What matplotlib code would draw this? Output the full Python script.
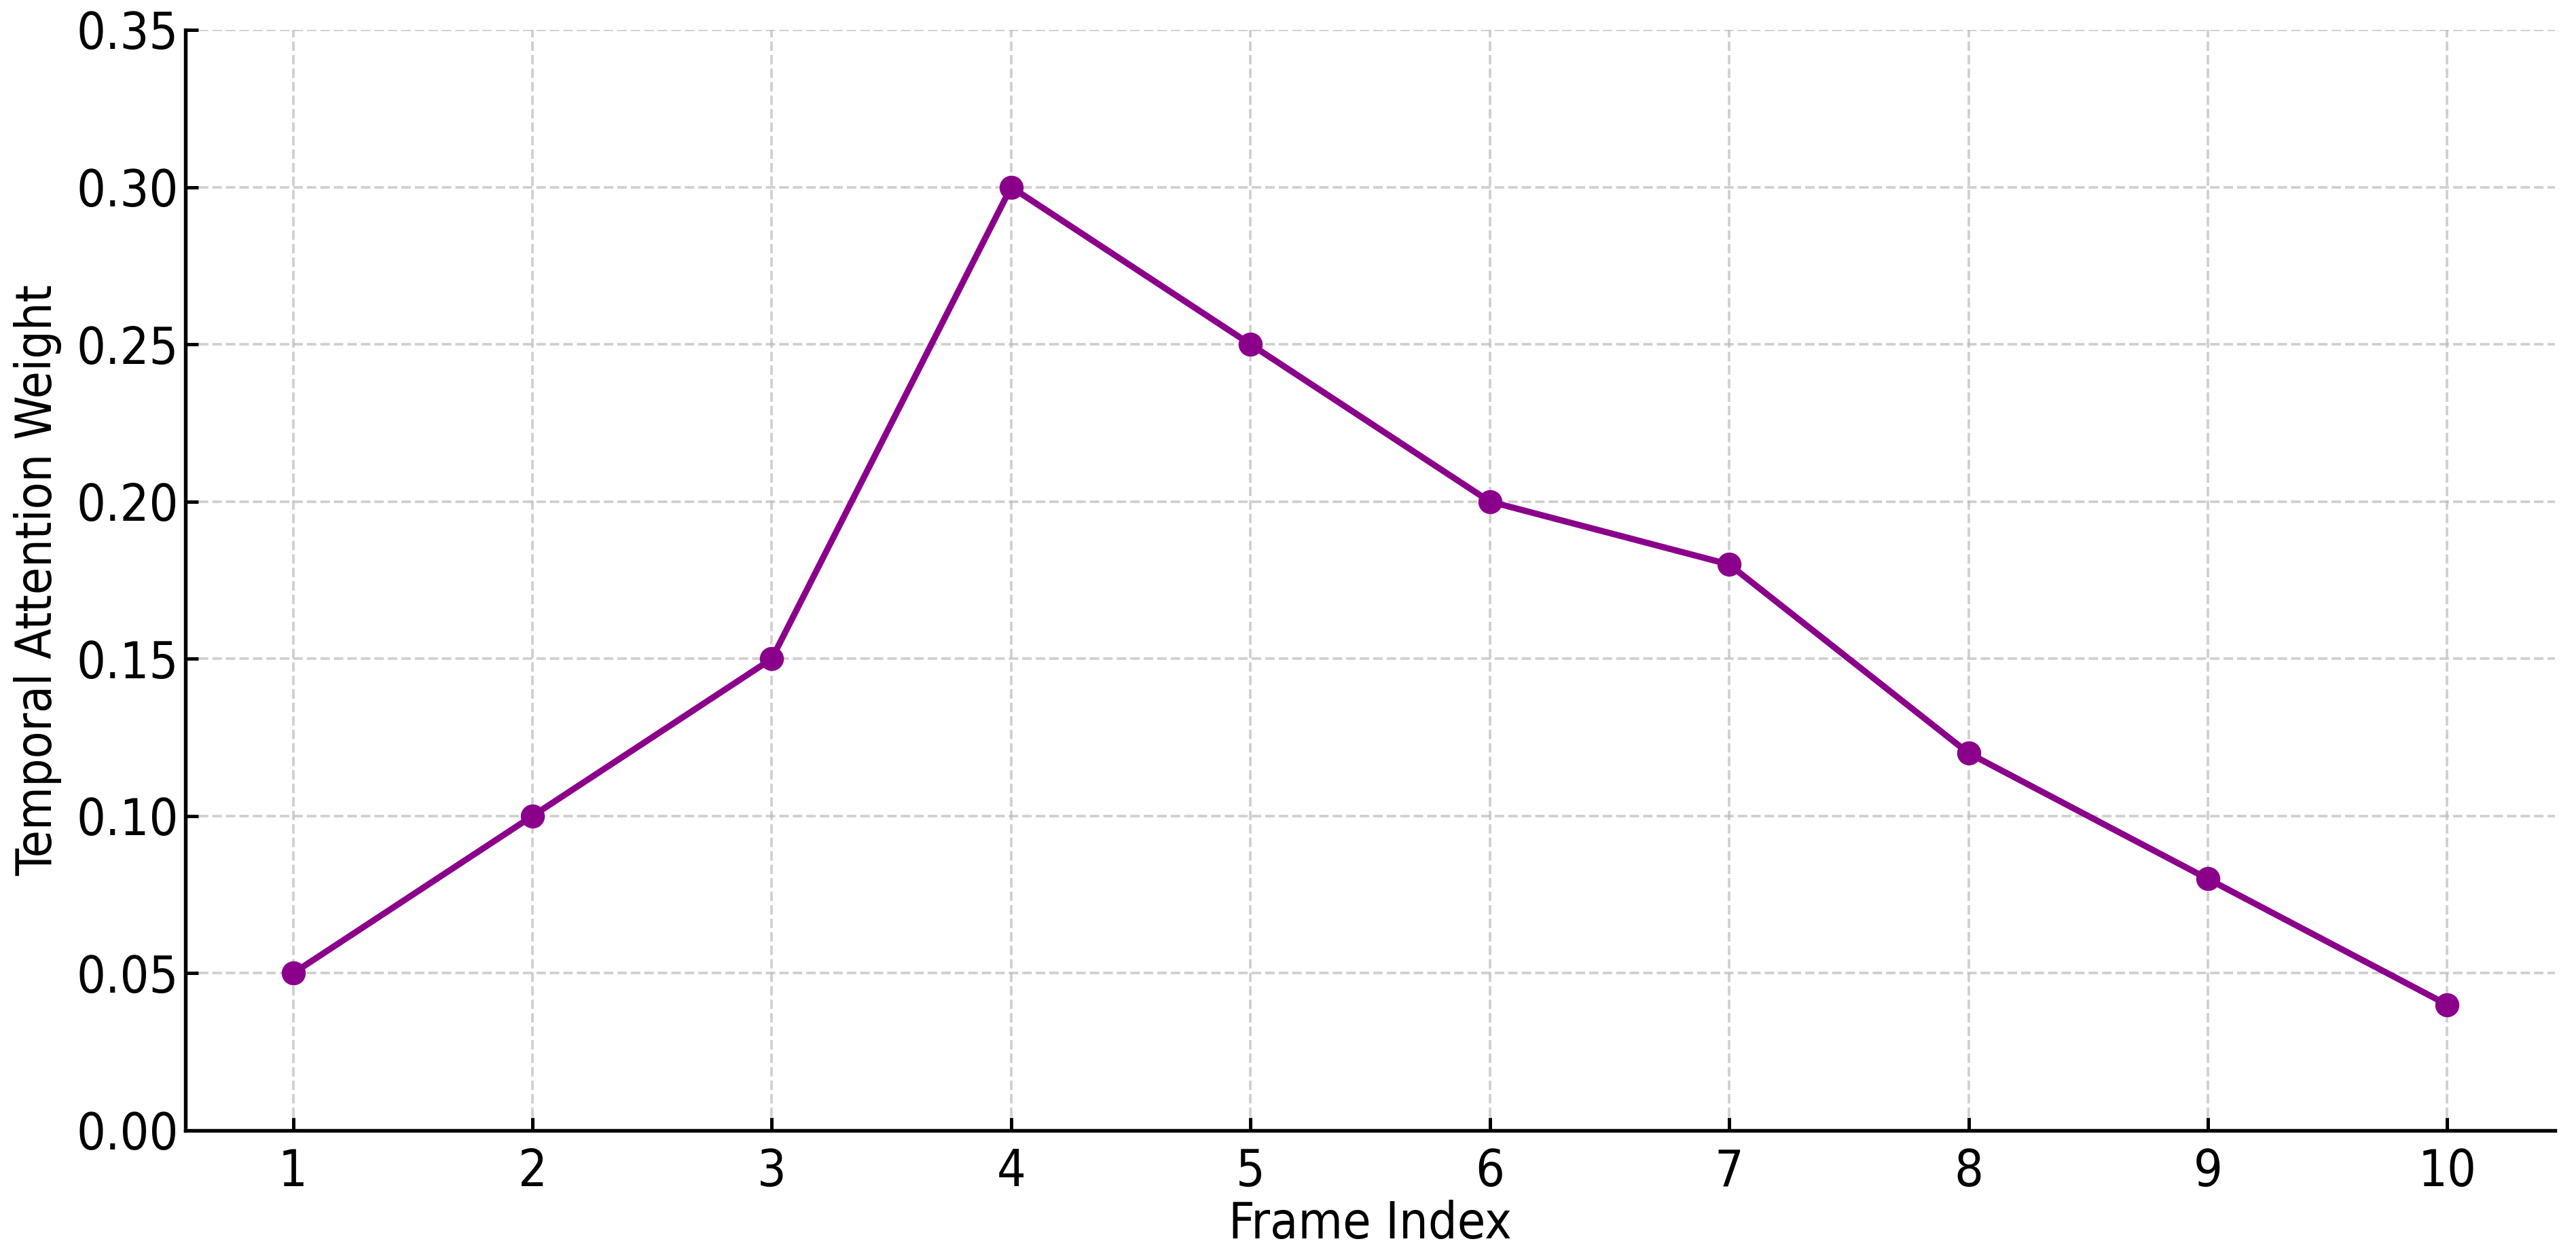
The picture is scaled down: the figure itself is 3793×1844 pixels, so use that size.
import matplotlib
matplotlib.use("Agg")
import matplotlib.pyplot as plt

# frame indices and their attention weights
frames = [1, 2, 3, 4, 5, 6, 7, 8, 9, 10]
weights = [0.05, 0.10, 0.15, 0.30, 0.25, 0.20, 0.18, 0.12, 0.08, 0.04]
yticks = [0.00, 0.05, 0.10, 0.15, 0.20, 0.25, 0.30, 0.35]

plt.rcParams["font.family"] = "DejaVu Sans"
plt.rcParams["font.stretch"] = "condensed"

fig = plt.figure(figsize=(3793 / 300, 1844 / 300), dpi=300)
ax = fig.add_axes([273 / 3793, 1 - 1665 / 1844, (3762 - 273) / 3793, (1665 - 44) / 1844])

ax.plot(frames, weights, color="#8B008B", linewidth=2.2, marker="o", markersize=7.5)

ax.set_xticks(frames)
ax.set_yticks(yticks)
ax.set_ylim(0, 0.35)
ax.set_yticklabels([f"{v:.2f}" for v in yticks])

ax.set_xlabel("Frame Index", fontsize=18, labelpad=1)
ax.set_ylabel("Temporal Attention Weight", fontsize=17.5, labelpad=5)
ax.tick_params(axis="x", direction="in", labelsize=18, length=4.5, width=1.2, pad=6)
ax.tick_params(axis="y", direction="in", labelsize=18, length=4.5, width=1.2, pad=2.5)

ax.grid(True, linestyle="--", color="#bbbbbb", alpha=0.7, linewidth=0.9)
for side in ["top", "right"]:
    ax.spines[side].set_visible(False)
for side in ["left", "bottom"]:
    ax.spines[side].set_linewidth(1.3)

fig.savefig("out.png", dpi=300)
